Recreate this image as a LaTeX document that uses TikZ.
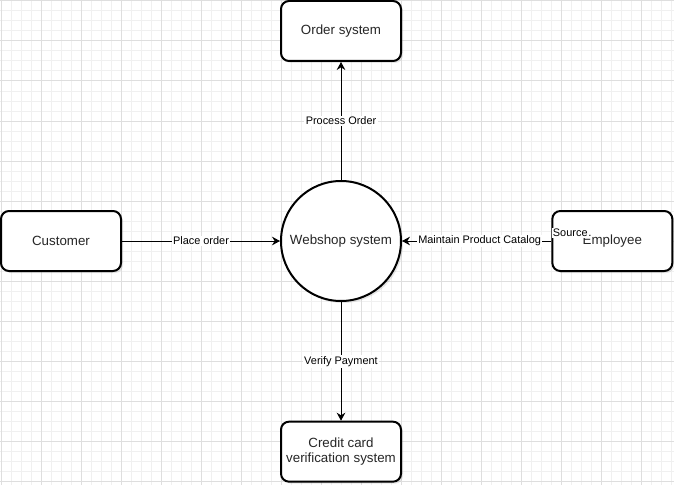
\documentclass[tikz,border=0pt]{standalone}
\usepackage{fontspec}
\setmainfont{Liberation Sans}
\usetikzlibrary{positioning,shadows,arrows.meta}

\begin{document}
\begin{tikzpicture}[x=0.75pt, y=-0.75pt,
    gridminor/.style={draw=black!6, line width=0.75pt},
    gridmajor/.style={draw=black!13, line width=0.75pt},
    box/.style={rectangle, draw, line width=1.5pt, rounded corners=6pt, fill=white,
      minimum width=90pt, minimum height=45pt, align=center,
      font=\fontsize{10}{11.5}\selectfont, text=black!85,
      drop shadow={shadow xshift=1.5pt, shadow yshift=-1.5pt, opacity=0.2}},
    proc/.style={circle, draw, line width=1.5pt, fill=white, minimum size=90pt,
      font=\fontsize{10}{12}\selectfont, text=black!85,
      drop shadow={shadow xshift=1.5pt, shadow yshift=-1.5pt, opacity=0.2}},
    flow/.style={-{Stealth[length=6pt, width=6.5pt, inset=2pt]}, line width=0.75pt},
    lbl/.style={fill=white, inner sep=1pt, font=\fontsize{8.2}{10}\selectfont}]
    \useasboundingbox (0,0) rectangle (674,485);
    % grid
    \foreach \x in {1,11,...,671} \draw[gridminor] (\x,0) -- (\x,485);
    \foreach \y in {1,11,...,481} \draw[gridminor] (0,\y) -- (674,\y);
    \foreach \x in {1,41,...,641} \draw[gridmajor] (\x,0) -- (\x,485);
    \foreach \y in {1,41,...,481} \draw[gridmajor] (0,\y) -- (674,\y);
    % nodes
    \node[proc] (web) at (341,241) {Webshop system};
    \node[box, above=88.5pt of web] (order) {Order system};
    \node[box, below=89pt of web] (card) {Credit card\\verification system};
    \node[box, left=118.5pt of web] (cust) {Customer};
    \node[box, right=112pt of web] (emp) {Employee};
    % flows
    \draw[flow] (web) -- node[lbl] {Process Order} (order);
    \draw[flow] (cust) -- node[lbl] {Place order} (web);
    \draw[flow] (emp) -- node[lbl, pos=0.48] {Maintain Product Catalog} (web);
    \draw[flow] (web) -- node[lbl] {Verify Payment} (card);
    \node[lbl, anchor=west] (src) at ([yshift=6pt]emp.west) {Source};
\end{tikzpicture}
\end{document}
